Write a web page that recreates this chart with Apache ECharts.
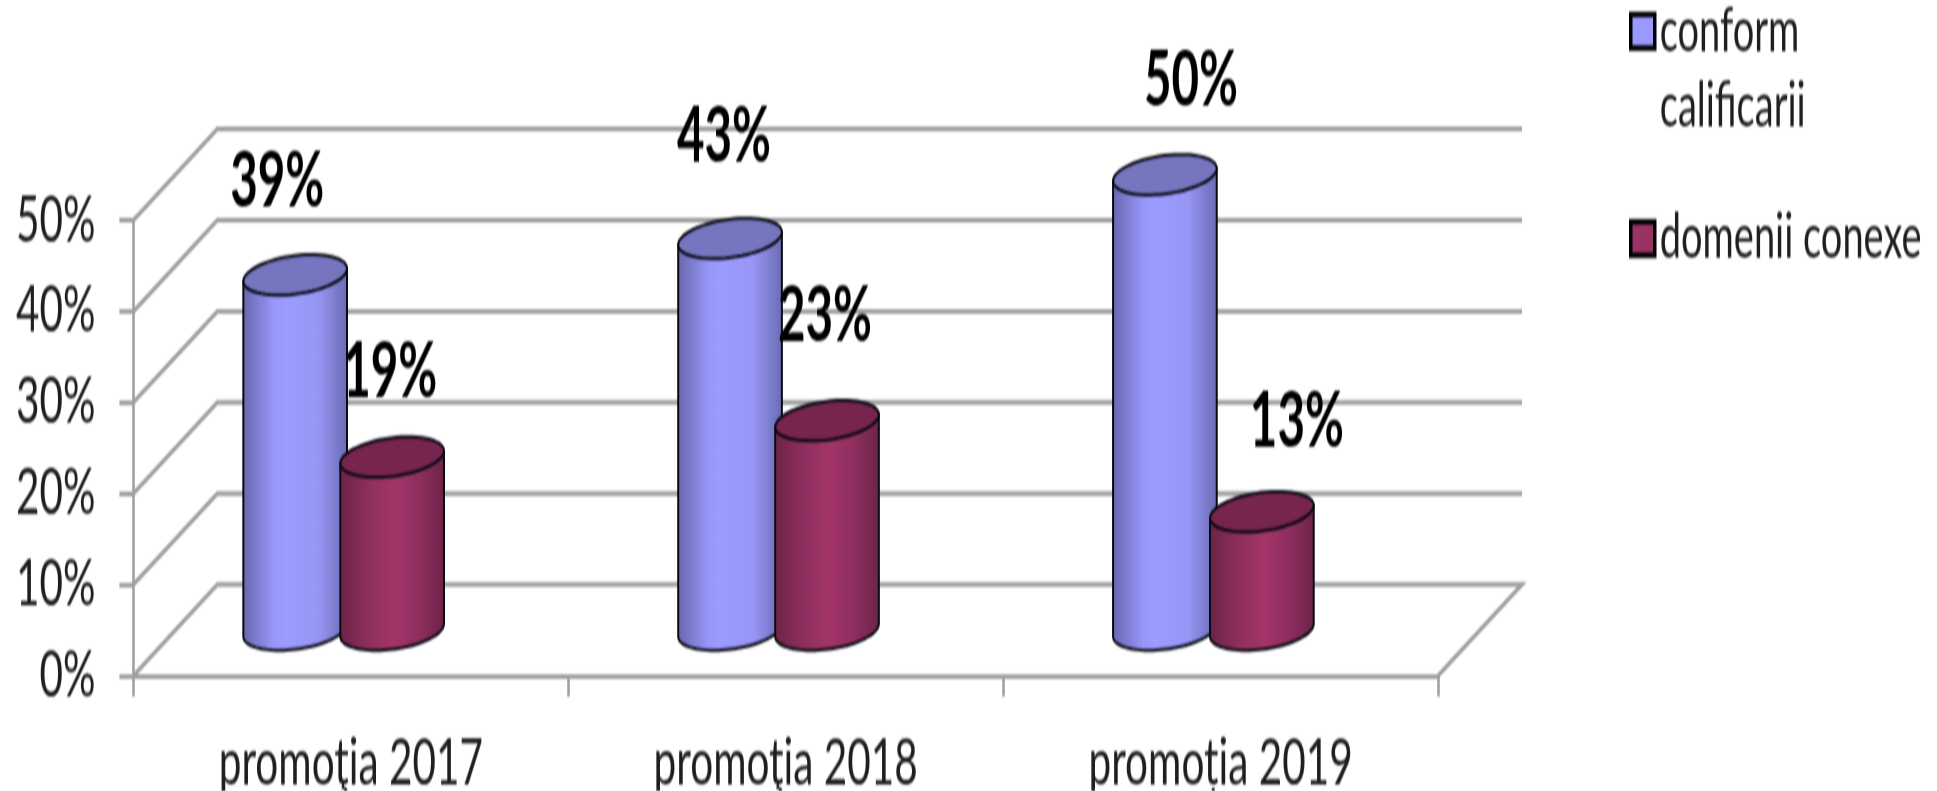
<!DOCTYPE html>
<html><head><meta charset="utf-8">
<style>html,body{margin:0;padding:0;background:#fff;overflow:hidden;width:1937px;height:791px}
#c{width:1937px;height:494px;transform-origin:0 0;transform:scaleY(1.6012);filter:blur(0.55px)}</style>
<script src="https://cdn.jsdelivr.net/npm/echarts@6/dist/echarts.min.js"></script>
</head><body><div id="c"></div>
<script>
const categories = ['promoţia 2017','promoţia 2018','promoția 2019'];
const conform = [39,43,50];
const conexe = [19,23,13];
const ticks = [0,10,20,30,40,50];
const nameConform = 'conform\ncalificarii';
const nameConexe = 'domenii conexe';
const labelShiftConform = [[-18,-58],[-6,-63],[26,-58]];
const labelShiftConexe = [[-2,-53],[-2,-65],[35,-56]];

const chart = echarts.init(document.getElementById('c'),null,{renderer:'canvas',devicePixelRatio:1});
const DEPTH_X = 84, RX = 52, RY = 12, TILT = -4.6*Math.PI/180;
const GRID = '#a0a0a0';
function ellipsePts(cx,cy,t0,t1,n){
  const out=[];
  for(let i=0;i<=n;i++){
    const t=t0+(t1-t0)*i/n;
    out.push([cx+RX*Math.cos(t)*Math.cos(TILT)-RY*Math.sin(t)*Math.sin(TILT),
              cy+RX*Math.cos(t)*Math.sin(TILT)+RY*Math.sin(t)*Math.cos(TILT)]);
  }
  return out;
}
function cylinder(pos,colors,shifts){
  return function(params,api){
    const i=api.value(0),v=api.value(1);
    const bw=api.size([1,0])[0];
    const dy=api.size([0,10])[1];
    const base=api.coord([i,0]), top=api.coord([i,v]);
    const cx=base[0]-bw/2+pos*bw;
    const by=base[1]-dy/2, ty=top[1]-dy/2;
    const tR=Math.atan2(-RY*Math.sin(TILT),RX*Math.cos(TILT));
    const lower=ellipsePts(cx,by,tR,tR+Math.PI,40);
    const r=ellipsePts(cx,ty,tR,tR,1)[0], l=ellipsePts(cx,ty,tR+Math.PI,tR+Math.PI,1)[0];
    const body=[r].concat(lower,[l]);
    const grad=new echarts.graphic.LinearGradient(0,0,1,0,colors.body);
    const s=shifts[i];
    return {type:'group',children:[
      {type:'polygon',shape:{points:body},style:{fill:grad,stroke:'#0a0a14',lineWidth:2}},
      {type:'polygon',shape:{points:ellipsePts(cx,ty,0,Math.PI*2,60)},style:{fill:colors.top,stroke:'#0a0a14',lineWidth:2}},
      {type:'text',z2:50,style:{text:v+'%',x:cx+s[0],y:ty+s[1],align:'center',verticalAlign:'middle',
        font:'bold 47.5px Lato',fill:'#000'}}
    ]};
  };
}
const blue={body:[{offset:0,color:'#6666ad'},{offset:.3,color:'#9898fa'},{offset:.42,color:'#9c9cff'},{offset:.72,color:'#9696f5'},{offset:1,color:'#6a6ab2'}],top:'#7676c0'};
const red={body:[{offset:0,color:'#6c2347'},{offset:.28,color:'#8e2f5e'},{offset:.52,color:'#a33569'},{offset:.75,color:'#8f2f5f'},{offset:1,color:'#6c2347'}],top:'#77244e'};

chart.setOption({
  animation:false,
  backgroundColor:'#fff',
  textStyle:{fontFamily:'Lato'},
  legend:[
   {left:1629,top:-51,padding:0,itemWidth:24,itemHeight:21,itemGap:0,icon:'rect',selectedMode:false,
    itemStyle:{borderColor:'#000',borderWidth:3.5},
    formatter:n=>'\n'+n,
    textStyle:{fontFamily:'Lato',fontSize:38,lineHeight:47,color:'#1f1f1f'},
    data:[{name:nameConform}]},
   {left:1629,top:125.5,padding:0,itemWidth:24,itemHeight:21,icon:'rect',selectedMode:false,
    itemStyle:{borderColor:'#000',borderWidth:3.5},
    textStyle:{fontFamily:'Lato',fontSize:38,lineHeight:47,color:'#1f1f1f'},
    data:[{name:nameConexe}]}
  ],
  grid:{left:133.4,right:499,top:137.5,bottom:72,outerBoundsMode:'none'},
  xAxis:{type:'category',data:categories,boundaryGap:true,
    axisLine:{lineStyle:{color:GRID,width:3}},
    axisTick:{show:true,alignWithLabel:false,length:13,lineStyle:{color:GRID,width:2.6}},
    axisLabel:{fontFamily:'Lato',fontSize:40.5,color:'#1f1f1f',margin:34}},
  yAxis:{type:'value',min:0,max:50,interval:10,
    axisLine:{show:true,lineStyle:{color:GRID,width:2.6}},
    axisTick:{show:true,length:14,lineStyle:{color:GRID,width:3}},
    splitLine:{show:false},
    axisLabel:{fontFamily:'Lato',fontSize:40.5,color:'#1f1f1f',margin:38,formatter:'{value}%'}},
  series:[
   {type:'custom',name:'walls',silent:true,z:1,data:ticks.map(t=>[0,t]),encode:{x:0,y:1},
    renderItem(params,api){
      const t=api.value(1);
      const bw=api.size([1,0])[0], dy=api.size([0,10])[1];
      const p=api.coord([0,t]);
      const x0=p[0]-bw/2, x3=x0+categories.length*bw;
      const pts=[[x0,p[1]],[x0+DEPTH_X,p[1]-dy],[x3+DEPTH_X,p[1]-dy]];
      if(t===0) pts.push([x3,p[1]]);
      return {type:'polyline',shape:{points:pts},style:{stroke:GRID,lineWidth:3,fill:null}};
    }},
   {type:'custom',name:nameConform,z:3,itemStyle:{color:'#9999ff'},data:conform.map((v,i)=>[i,v]),encode:{x:0,y:1},
    renderItem:cylinder(0.372,blue,labelShiftConform)},
   {type:'custom',name:nameConexe,z:4,itemStyle:{color:'#993366'},data:conexe.map((v,i)=>[i,v]),encode:{x:0,y:1},
    renderItem:cylinder(0.595,red,labelShiftConexe)}
  ]
});
</script></body></html>
